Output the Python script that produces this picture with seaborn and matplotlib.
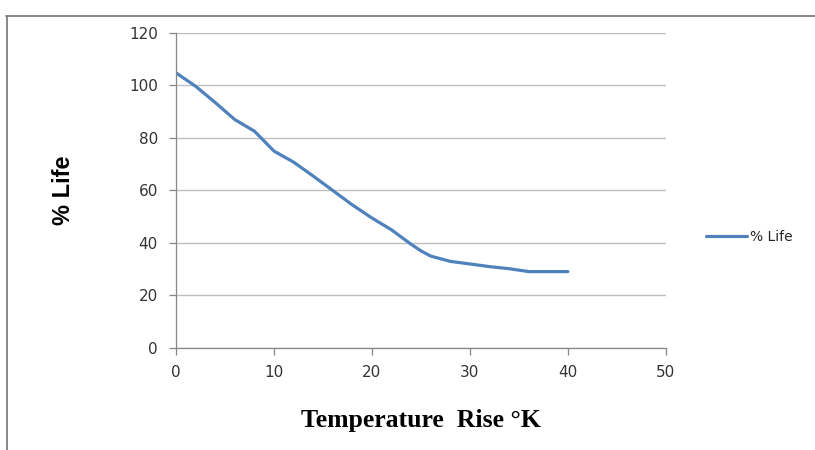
import matplotlib
matplotlib.use("Agg")
import matplotlib.pyplot as plt
from matplotlib.lines import Line2D
import pandas as pd
import seaborn as sns

# values
temp_rise = [0, 2, 4, 6, 8, 9, 10, 12, 14, 16, 18, 20, 22, 24, 25, 26, 28, 30, 32, 34, 36, 38, 40]
life_pct = [104.8, 99.7, 93.5, 87.0, 82.6, 78.8, 75.0, 70.8, 65.5, 60.0, 54.5, 49.5,
            45.0, 39.5, 37.0, 35.0, 33.0, 32.0, 31.0, 30.2, 29.1, 29.1, 29.1]
series_name = "% Life"
x_ticks = [0, 10, 20, 30, 40, 50]
y_ticks = [0, 20, 40, 60, 80, 100, 120]

df = pd.DataFrame({"Temperature": temp_rise, "Life": life_pct})

sns.set_style("white")
plt.rcParams["font.family"] = ["DejaVu Sans"]

fig = plt.figure(figsize=(8.15, 4.5), dpi=100)
ax = fig.add_axes([0.216, 0.2267, 0.601, 0.7])

sns.lineplot(data=df, x="Temperature", y="Life", ax=ax, color="#4F81BD",
             linewidth=2.3, label=series_name)

ax.set_xlim(0, 50)
ax.set_ylim(0, 120)
ax.set_xticks(x_ticks)
ax.set_yticks(y_ticks)
ax.yaxis.grid(True, color="#BFBFBF", linewidth=1.0)
ax.xaxis.grid(False)
ax.set_axisbelow(True)

for side in ("top", "right"):
    ax.spines[side].set_visible(False)
for side in ("left", "bottom"):
    ax.spines[side].set_color("#868686")
    ax.spines[side].set_linewidth(0.9)

ax.tick_params(axis="both", direction="out", length=5, width=0.9, color="#868686",
               labelsize=11, labelcolor="#333333")
ax.tick_params(axis="y", pad=8)
ax.tick_params(axis="x", pad=7)
ax.tick_params(left=True, bottom=True)

ax.set_xlabel("Temperature  Rise °K", family=["Liberation Serif"], fontweight="bold",
              fontsize=18.5, color="black", labelpad=21)
ax.set_ylabel("% Life", family=["Liberation Sans"], fontweight="bold",
              fontsize=17, color="black", labelpad=39)

ax.legend(loc="center left", bbox_to_anchor=(0.866, 0.473), bbox_transform=fig.transFigure,
          frameon=False, fontsize=10, handlelength=3.0, handletextpad=0.2, borderpad=0,
          borderaxespad=0)

# outer frame lines (top and left) as in the reference
fig.add_artist(Line2D([0.0075, 1.0], [1 - 16 / 450, 1 - 16 / 450], transform=fig.transFigure,
                      color="#7F7F7F", linewidth=1.3))
fig.add_artist(Line2D([0.0085, 0.0085], [0.0, 1 - 16 / 450], transform=fig.transFigure,
                      color="#7F7F7F", linewidth=1.3))

fig.savefig("out.png", dpi=100)
